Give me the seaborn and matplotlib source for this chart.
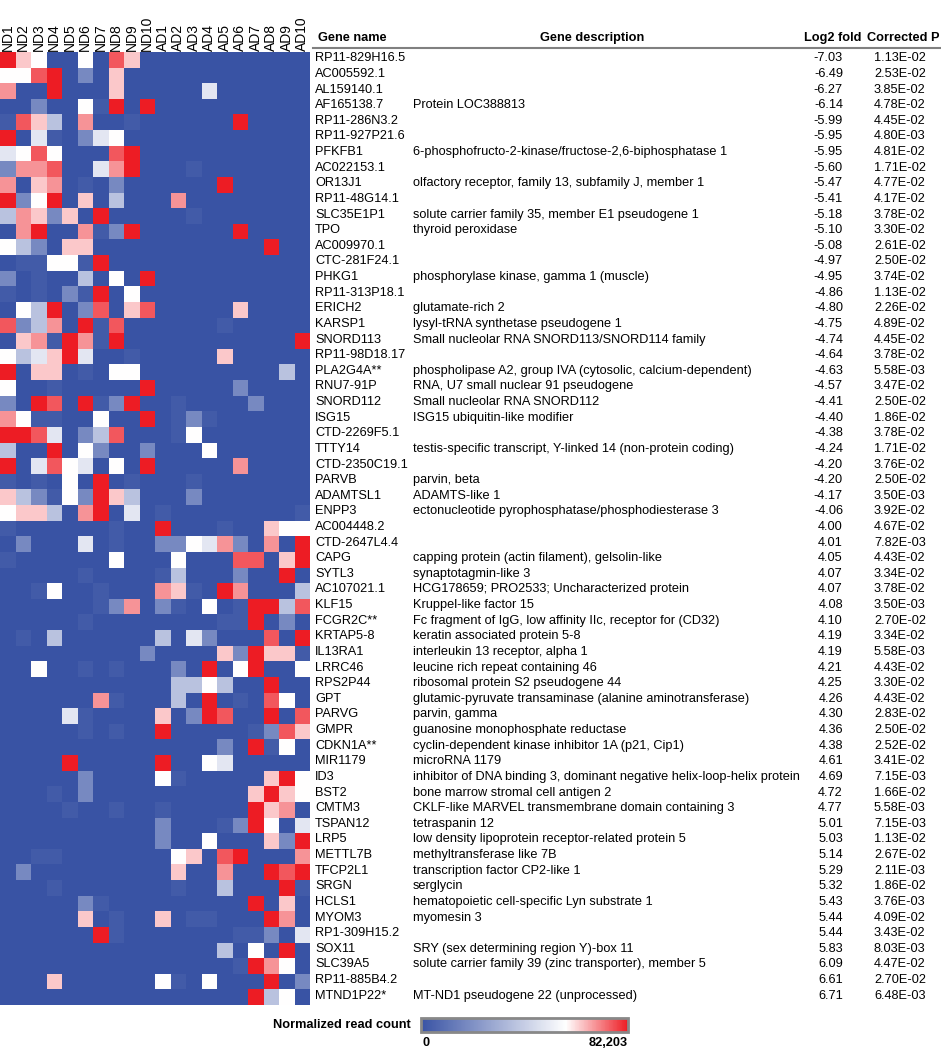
import numpy as np
import pandas as pd
import matplotlib
matplotlib.use("Agg")
import matplotlib.pyplot as plt
import seaborn as sns
from matplotlib.colors import LinearSegmentedColormap

# Muestras (columnas del heatmap)
samples = [f"ND{i}" for i in range(1, 11)] + [f"AD{i}" for i in range(1, 11)]

genes = ["RP11-829H16.5", "AC005592.1", "AL159140.1", "AF165138.7", "RP11-286N3.2",
         "RP11-927P21.6", "PFKFB1", "AC022153.1", "OR13J1", "RP11-48G14.1",
         "SLC35E1P1", "TPO", "AC009970.1", "CTC-281F24.1", "PHKG1",
         "RP11-313P18.1", "ERICH2", "KARSP1", "SNORD113", "RP11-98D18.17",
         "PLA2G4A**", "RNU7-91P", "SNORD112", "ISG15", "CTD-2269F5.1",
         "TTTY14", "CTD-2350C19.1", "PARVB", "ADAMTSL1", "ENPP3",
         "AC004448.2", "CTD-2647L4.4", "CAPG", "SYTL3", "AC107021.1",
         "KLF15", "FCGR2C**", "KRTAP5-8", "IL13RA1", "LRRC46",
         "RPS2P44", "GPT", "PARVG", "GMPR", "CDKN1A**",
         "MIR1179", "ID3", "BST2", "CMTM3", "TSPAN12",
         "LRP5", "METTL7B", "TFCP2L1", "SRGN", "HCLS1",
         "MYOM3", "RP1-309H15.2", "SOX11", "SLC39A5", "RP11-885B4.2",
         "MTND1P22*"]

descriptions = ["", "", "", "Protein LOC388813", "",
                "", "6-phosphofructo-2-kinase/fructose-2,6-biphosphatase 1", "",
                "olfactory receptor, family 13, subfamily J, member 1", "",
                "solute carrier family 35, member E1 pseudogene 1", "thyroid peroxidase", "", "",
                "phosphorylase kinase, gamma 1 (muscle)",
                "", "glutamate-rich 2", "lysyl-tRNA synthetase pseudogene 1",
                "Small nucleolar RNA SNORD113/SNORD114 family", "",
                "phospholipase A2, group IVA (cytosolic, calcium-dependent)",
                "RNA, U7 small nuclear 91 pseudogene", "Small nucleolar RNA SNORD112",
                "ISG15 ubiquitin-like modifier", "",
                "testis-specific transcript, Y-linked 14 (non-protein coding)", "",
                "parvin, beta", "ADAMTS-like 1",
                "ectonucleotide pyrophosphatase/phosphodiesterase 3",
                "", "", "capping protein (actin filament), gelsolin-like",
                "synaptotagmin-like 3", "HCG178659; PRO2533; Uncharacterized protein",
                "Kruppel-like factor 15", "Fc fragment of IgG, low affinity IIc, receptor for (CD32)",
                "keratin associated protein 5-8", "interleukin 13 receptor, alpha 1",
                "leucine rich repeat containing 46",
                "ribosomal protein S2 pseudogene 44",
                "glutamic-pyruvate transaminase (alanine aminotransferase)",
                "parvin, gamma", "guanosine monophosphate reductase",
                "cyclin-dependent kinase inhibitor 1A (p21, Cip1)",
                "microRNA 1179",
                "inhibitor of DNA binding 3, dominant negative helix-loop-helix protein",
                "bone marrow stromal cell antigen 2",
                "CKLF-like MARVEL transmembrane domain containing 3", "tetraspanin 12",
                "low density lipoprotein receptor-related protein 5",
                "methyltransferase like 7B", "transcription factor CP2-like 1", "serglycin",
                "hematopoietic cell-specific Lyn substrate 1",
                "myomesin 3", "", "SRY (sex determining region Y)-box 11",
                "solute carrier family 39 (zinc transporter), member 5", "",
                "MT-ND1 pseudogene 22 (unprocessed)"]

log2_fold = ["-7.03", "-6.49", "-6.27", "-6.14", "-5.99", "-5.95", "-5.95", "-5.60", "-5.47", "-5.41",
             "-5.18", "-5.10", "-5.08", "-4.97", "-4.95", "-4.86", "-4.80", "-4.75", "-4.74", "-4.64",
             "-4.63", "-4.57", "-4.41", "-4.40", "-4.38", "-4.24", "-4.20", "-4.20", "-4.17", "-4.06",
             "4.00", "4.01", "4.05", "4.07", "4.07", "4.08", "4.10", "4.19", "4.19", "4.21",
             "4.25", "4.26", "4.30", "4.36", "4.38", "4.61", "4.69", "4.72", "4.77", "5.01",
             "5.03", "5.14", "5.29", "5.32", "5.43", "5.44", "5.44", "5.83", "6.09", "6.61",
             "6.71"]

corrected_p = ["1.13E-02", "2.53E-02", "3.85E-02", "4.78E-02", "4.45E-02", "4.80E-03", "4.81E-02",
               "1.71E-02", "4.77E-02", "4.17E-02", "3.78E-02", "3.30E-02", "2.61E-02", "2.50E-02",
               "3.74E-02", "1.13E-02", "2.26E-02", "4.89E-02", "4.45E-02", "3.78E-02", "5.58E-03",
               "3.47E-02", "2.50E-02", "1.86E-02", "3.78E-02", "1.71E-02", "3.76E-02", "2.50E-02",
               "3.50E-03", "3.92E-02", "4.67E-02", "7.82E-03", "4.43E-02", "3.34E-02", "3.78E-02",
               "3.50E-03", "2.70E-02", "3.34E-02", "5.58E-03", "4.43E-02", "3.30E-02", "4.43E-02",
               "2.83E-02", "2.50E-02", "2.52E-02", "3.41E-02", "7.15E-03", "1.66E-02", "5.58E-03",
               "7.15E-03", "1.13E-02", "2.67E-02", "2.11E-03", "1.86E-02", "3.76E-03", "4.09E-02",
               "3.43E-02", "8.03E-03", "4.47E-02", "2.70E-02", "6.48E-03"]

# Nivel de color leido por celda (0 = azul ... 5 = blanco ... 9 = rojo), ND1..ND10 + AD1..AD10
cell_levels = [
    "9650050860" "0000000000", "5589020600" "0000000000", "7009000600" "0004000000",
    "0020051909" "0000000000", "1863070010" "0000090000", "9041024500" "0000000000",
    "4585000890" "0000000000", "2778004790" "0010000000", "7067010200" "0000900000",
    "9259060300" "0700000000", "3762609000" "0010000000", "0790071290" "0000090000",
    "5320660000" "0000000900", "0115519000" "0000000000", "2010030509" "0000000000",
    "1010219050" "0000000000", "0539028068" "0000060000", "8237091800" "0000100000",
    "0671971900" "0000000009", "5346940010" "0000600000", "9066010550" "0000000030",
    "5001000009" "0000020000", "2098091290" "0100002000", "7511005009" "0121000000",
    "9984023800" "0150000000", "3009052002" "0005000000", "9048540509" "0000070000",
    "1010509010" "0010000000", "6321529630" "0020000000", "5663079040" "1000000001",
    "1000000100" "9000100655", "0200040100" "2254720709", "1000000500" "0500088069",
    "0000010000" "1300020090", "0015001000" "7610970003", "0000001270" "2105019938",
    "0000010000" "0000119020", "0103000000" "3042000809", "0000000002" "0000629661",
    "0050010100" "0209059005", "0000000000" "0335300900", "0000007100" "0309010850",
    "0000410000" "6029800908", "0000010100" "9000001286", "0000000000" "0000209150",
    "0000900000" "9005400000", "0000020000" "5100000695", "0001020000" "0000006965",
    "0000100100" "1000009670", "0000000000" "2000129504", "0000000000" "2005000629",
    "0011000000" "0560890007", "0200000000" "0600700989", "0001000000" "0100300091",
    "0000021000" "0000009060", "0000060100" "6011000970", "0000009100" "0000011204",
    "0000000000" "0000305090", "0000000000" "0000019750", "0006000000" "5105000902",
    "0000000000" "0000009350",
]
level_fraction = [0.0, 0.035, 0.22, 0.45, 0.6, 0.7, 0.77, 0.84, 0.92, 1.0]
max_count = 82203

counts = np.array([[level_fraction[int(c)] * max_count for c in row] for row in cell_levels])
df = pd.DataFrame(counts, index=genes, columns=samples)

cmap = LinearSegmentedColormap.from_list(
    "ref_bwr", [(0.0, "#3953a4"), (0.7, "#ffffff"), (1.0, "#ed1c24")])

W, H = 941, 1050
fig = plt.figure(figsize=(W / 100, H / 100), dpi=100)
plt.rcParams['font.family'] = ['Liberation Sans', 'DejaVu Sans']

# capa de texto en coordenadas de pixel
tax = fig.add_axes([0, 0, 1, 1])
tax.set_xlim(0, W)
tax.set_ylim(H, 0)
tax.axis('off')

hm_top, hm_bottom, hm_right = 52, 1005, 310
ax = fig.add_axes([0, (H - hm_bottom) / H, hm_right / W, (hm_bottom - hm_top) / H])
cax = fig.add_axes([421 / W, (H - 1032) / H, 207 / W, 14 / H])

sns.heatmap(df, ax=ax, cmap=cmap, vmin=0, vmax=max_count, xticklabels=samples,
            yticklabels=False, cbar_ax=cax, cbar_kws={'orientation': 'horizontal'})
ax.xaxis.tick_top()
ax.set_xticklabels(samples, rotation=90, fontsize=10)
ax.tick_params(axis='x', length=0, pad=1)
ax.set_xlabel('')
ax.set_ylabel('')

cbar = ax.collections[0].colorbar
cbar.set_ticks([])
cbar.outline.set_edgecolor('#888888')
cbar.outline.set_linewidth(2)

fs = 9.2
row_h = (hm_bottom - hm_top) / len(genes)
tax.text(318, 38, "Gene name", fontsize=fs, fontweight='bold', va='center')
tax.text(540, 38, "Gene description", fontsize=fs, fontweight='bold', va='center')
tax.text(862, 38, "Log2 fold", fontsize=fs, fontweight='bold', va='center', ha='right')
tax.text(940, 38, "Corrected P", fontsize=fs, fontweight='bold', va='center', ha='right')
tax.plot([313, W], [48, 48], color='#808080', lw=1.5)

for i, g in enumerate(genes):
    y = hm_top + row_h * (i + 0.5) - 1.5
    tax.text(315, y, g, fontsize=fs, va='center')
    tax.text(413, y, descriptions[i], fontsize=fs, va='center')
    tax.text(843, y, log2_fold[i], fontsize=fs, va='center', ha='right')
    tax.text(874, y, corrected_p[i], fontsize=fs, va='center')

tax.text(411, 1025, "Normalized read count", fontsize=fs, fontweight='bold', va='center', ha='right')
tax.text(423, 1043, "0", fontsize=fs, fontweight='bold', va='center')
tax.text(628, 1043, "82,203", fontsize=fs, fontweight='bold', va='center', ha='right')

fig.savefig("out.png", dpi=100)
